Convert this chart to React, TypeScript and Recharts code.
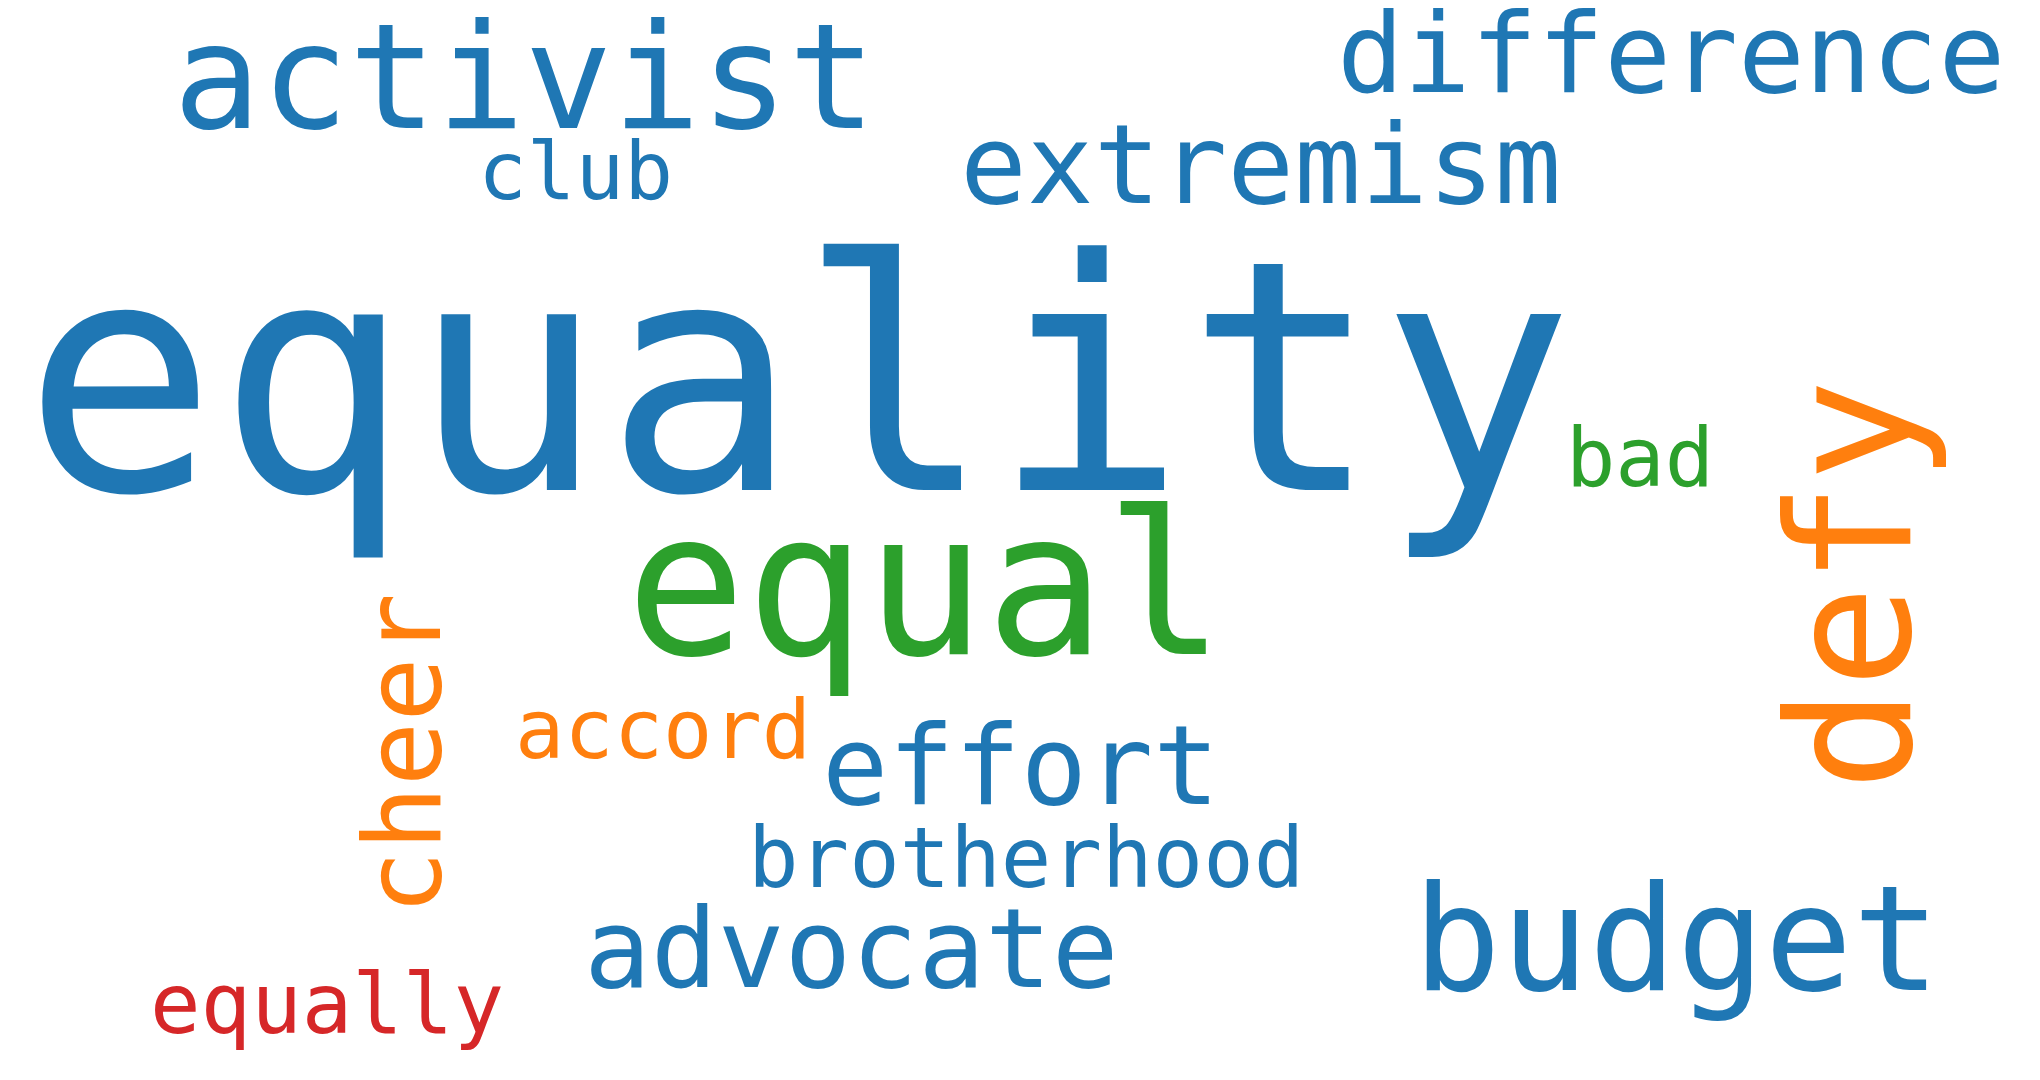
import { Scatter, ScatterChart, XAxis, YAxis } from 'recharts';

const BLUE = '#1f77b4';
const ORANGE = '#ff7f0e';
const GREEN = '#2ca02c';
const RED = '#d62728';

const words = ['activist', 'difference', 'club', 'extremism', 'equality', 'bad', 'equal', 'defy', 'cheer', 'accord', 'effort', 'brotherhood', 'advocate', 'budget', 'equally'];
const xs = [173, 1337, 478, 960, 23, 1566, 626, 1910, 440, 515, 822, 748, 584, 1413, 150];
const ys = [128, 92, 199, 203, 490, 486, 654, 791, 915, 758, 804, 887, 987, 990, 1033];
const sizes = [146, 111, 81, 111, 322, 82, 199, 171, 107, 82, 110, 84, 111, 146, 84];
const colors = [BLUE, BLUE, BLUE, BLUE, BLUE, GREEN, GREEN, ORANGE, ORANGE, ORANGE, BLUE, BLUE, BLUE, BLUE, RED];
const rotations = [0, 0, 0, 0, 0, 0, 0, -90, -90, 0, 0, 0, 0, 0, 0];

const data = words.map((w, i) => ({
  word: w,
  x: xs[i],
  y: ys[i],
  size: sizes[i],
  color: colors[i],
  rot: rotations[i],
}));

function Word(props: any) {
  const { cx, cy, payload } = props;
  return (
    <text
      x={cx}
      y={cy}
      fill={payload.color}
      fontSize={payload.size}
      fontFamily="'DejaVu Sans Mono', monospace"
      textAnchor="start"
      transform={payload.rot ? `rotate(${payload.rot} ${cx} ${cy})` : undefined}
    >
      {payload.word}
    </text>
  );
}

export default function App() {
  return (
    <div style={{ position: 'absolute', left: 0, top: 0, background: '#fff' }}>
      <ScatterChart width={2040} height={1080} margin={{ top: 0, right: 0, bottom: 0, left: 0 }}>
        <XAxis type="number" dataKey="x" domain={[0, 2040]} hide />
        <YAxis type="number" dataKey="y" domain={[0, 1080]} reversed hide />
        <Scatter data={data} shape={Word} isAnimationActive={false} />
      </ScatterChart>
    </div>
  );
}
